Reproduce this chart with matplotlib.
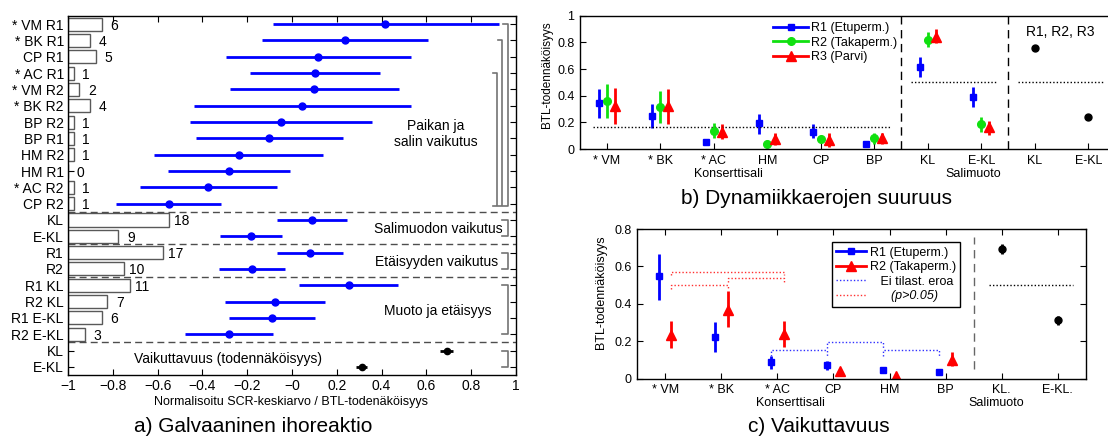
import numpy as np
import matplotlib
matplotlib.use('Agg')
import matplotlib.pyplot as plt
from matplotlib.lines import Line2D

plt.rcParams['font.family'] = ['Liberation Sans', 'DejaVu Sans']
plt.rcParams['axes.linewidth'] = 1.0

# ---- panel a data ----
a_labels = ['* VM R1', '* BK R1', 'CP R1', '* AC R1', '* VM R2', '* BK R2', 'BP R2', 'BP R1',
            'HM R2', 'HM R1', '* AC R2', 'CP R2', 'KL', 'E-KL', 'R1', 'R2',
            'R1 KL', 'R2 KL', 'R1 E-KL', 'R2 E-KL', 'KL', 'E-KL']
a_counts = [6, 4, 5, 1, 2, 4, 1, 1, 1, 0, 1, 1, 18, 9, 17, 10, 11, 7, 6, 3]
a_mean = [0.417, 0.237, 0.118, 0.103, 0.100, 0.045, -0.049, -0.101, -0.238, -0.283, -0.374, -0.551,
          0.088, -0.185, 0.082, -0.177, 0.253, -0.077, -0.089, -0.280]
a_low = [-0.086, -0.133, -0.295, -0.188, -0.277, -0.437, -0.455, -0.429, -0.615, -0.552, -0.679, -0.786,
         -0.068, -0.321, -0.066, -0.326, 0.033, -0.298, -0.280, -0.476]
a_high = [0.924, 0.609, 0.530, 0.393, 0.479, 0.530, 0.357, 0.228, 0.140, -0.010, -0.068, -0.318,
          0.247, -0.046, 0.229, -0.030, 0.475, 0.149, 0.104, -0.083]
a_btl = [0.69, 0.311]
a_btl_err = [0.03, 0.025]

# ---- panel b data ----
b_labels = ['* VM', '* BK', '* AC', 'HM', 'CP', 'BP', 'KL', 'E-KL', 'KL', 'E-KL']
b_r1 = [0.343, 0.248, 0.050, 0.193, 0.130, 0.035, 0.613, 0.392]
b_r1_lo = [0.231, 0.155, 0.038, 0.113, 0.080, 0.026, 0.538, 0.317]
b_r1_hi = [0.448, 0.335, 0.062, 0.263, 0.188, 0.044, 0.688, 0.463]
b_r2 = [0.362, 0.317, 0.137, 0.035, 0.073, 0.080, 0.818, 0.185]
b_r2_lo = [0.230, 0.193, 0.080, 0.025, 0.055, 0.038, 0.763, 0.130]
b_r2_hi = [0.485, 0.437, 0.193, 0.045, 0.090, 0.122, 0.875, 0.238]
b_r3 = [0.322, 0.322, 0.130, 0.073, 0.068, 0.080, 0.840, 0.163]
b_r3_lo = [0.188, 0.188, 0.073, 0.030, 0.018, 0.038, 0.793, 0.105]
b_r3_hi = [0.455, 0.448, 0.188, 0.118, 0.122, 0.118, 0.898, 0.213]
b_all = [0.760, 0.243]
b_all_err = [0.022, 0.02]

# ---- panel c data ----
c_labels = ['* VM', '* BK', '* AC', 'CP', 'HM', 'BP', 'KL.', 'E-KL.']
c_r1 = [0.547, 0.223, 0.086, 0.070, 0.045, 0.036]
c_r1_lo = [0.422, 0.143, 0.049, 0.045, 0.030, 0.025]
c_r1_hi = [0.668, 0.300, 0.120, 0.095, 0.060, 0.047]
c_r2 = [0.232, 0.369, 0.236, 0.042, 0.015, 0.099]
c_r2_lo = [0.164, 0.273, 0.166, 0.030, 0.005, 0.067]
c_r2_hi = [0.307, 0.467, 0.307, 0.055, 0.025, 0.143]
c_all = [0.694, 0.312]
c_all_err = [0.027, 0.025]
# non-significant pairs (index i, index j, height)
c_red_pairs = [(0, 2, 0.572), (1, 2, 0.538), (0, 1, 0.500)]
c_blue_pairs = [(2, 3, 0.152), (3, 4, 0.195), (4, 5, 0.152)]

W, H = 1108.0, 437.0
fig = plt.figure(figsize=(W / 100, H / 100), dpi=100)

dash = (0, (6, 4))
dot = (0, (1, 1.5))


def bracket(ax, x, y0, y1, d):
    ax.plot([x - d, x, x, x - d], [y0, y0, y1, y1], color='0.45', lw=1.2, clip_on=False)


def minus(v):
    return ('%g' % v).replace('-', '\u2212')


# ================= panel a =================
axa = fig.add_axes([68 / W, 1 - 375 / H, 448 / W, 359 / H])
rows = np.arange(1, 23)
n = len(a_counts)
axa.barh(rows[:n], np.array(a_counts) / 40, left=-1, height=0.8,
         facecolor='white', edgecolor='0.35', lw=1, zorder=2)
for r, c in zip(rows[:n], a_counts):
    axa.text(-1 + c / 40 + 0.056, r, str(c), ha='center', va='center_baseline', fontsize=10)

axa.hlines(rows[:n], a_low, a_high, color='blue', lw=2, zorder=3)
axa.plot(a_mean, rows[:n], 'o', color='blue', ms=5, zorder=4)
axa.errorbar(a_btl, rows[n:], xerr=a_btl_err, fmt='o', color='k', ms=4.5,
             elinewidth=2, capsize=0, zorder=4)

for y in [12.5, 14.5, 16.5, 20.5]:
    axa.axhline(y, color='0.3', ls=(0, (5, 3)), lw=1)

bracket(axa, 0.964, 1.0, 12.15, 0.02)
bracket(axa, 0.939, 2.0, 12.15, 0.02)
bracket(axa, 0.917, 4.0, 12.15, 0.02)
for y0, y1 in [(13, 14), (15, 16), (17, 20), (21, 22)]:
    bracket(axa, 0.964, y0, y1, 0.025)

axa.text(0.64, 7.72, 'Paikan ja\nsalin vaikutus', ha='center', va='center', fontsize=10,
         linespacing=1.2)
axa.text(0.94, 13.49, 'Salimuodon vaikutus', ha='right', va='center_baseline', fontsize=10)
axa.text(0.92, 15.48, 'Etäisyyden vaikutus', ha='right', va='center_baseline', fontsize=10)
axa.text(0.65, 18.46, 'Muoto ja etäisyys', ha='center', va='center_baseline', fontsize=10)
axa.text(-0.705, 21.45, 'Vaikuttavuus (todennäköisyys)', ha='left', va='center_baseline', fontsize=10)

axa.set_xlim(-1, 1)
axa.set_ylim(22.5, 0.5)
xt = np.round(np.arange(-1, 1.01, 0.2), 1)
axa.set_xticks(xt)
axa.set_xticklabels([minus(v) for v in xt])
axa.set_yticks(rows)
axa.set_yticklabels(a_labels)
axa.tick_params(direction='in', top=True, right=True, length=4, labelsize=10, pad=3)

fig.text(291.5 / W, 1 - 401.7 / H, 'Normalisoitu SCR-keskiarvo / BTL-todenäköisyys',
         ha='center', va='center', fontsize=9)
fig.text(253 / W, 1 - 426.7 / H, 'a) Galvaaninen ihoreaktio', ha='center', va='center', fontsize=15)

# ================= panel b =================
axb = fig.add_axes([580 / W, 1 - 149 / H, 535 / W, 133.3 / H])
pos = np.arange(1, len(b_r1) + 1)
green = '#10e010'
series_b = [(b_r1, b_r1_lo, b_r1_hi, 'blue', 's', -0.15, 5, 'R1 (Etuperm.)'),
            (b_r2, b_r2_lo, b_r2_hi, green, 'o', 0.0, 5.5, 'R2 (Takaperm.)'),
            (b_r3, b_r3_lo, b_r3_hi, 'red', '^', 0.15, 6.5, 'R3 (Parvi)')]
handles = []
for v, lo, hi, col, mk, dx, ms, lab in series_b:
    v = np.array(v)
    err = [v - np.array(lo), np.array(hi) - v]
    axb.errorbar(pos + dx, v, yerr=err, fmt=mk, color=col, ms=ms, elinewidth=2, capsize=0)
    handles.append(Line2D([0], [0], color=col, lw=2, marker=mk, ms=ms, label=lab))
axb.errorbar([9, 10], b_all, yerr=b_all_err, fmt='o', color='k', ms=5, elinewidth=2, capsize=0)

axb.plot([0.74, 6.29], [1 / 6, 1 / 6], color='k', ls=dot, lw=1)
axb.plot([6.68, 8.28], [0.5, 0.5], color='k', ls=dot, lw=1)
axb.plot([8.68, 10.27], [0.5, 0.5], color='k', ls=dot, lw=1)
axb.axvline(6.5, color='k', ls=dash, lw=1)
axb.axvline(8.5, color='k', ls=dash, lw=1)
axb.text(9.47, 0.88, 'R1, R2, R3', ha='center', va='center', fontsize=10)

axb.set_xlim(0.5, 10.5)
axb.set_ylim(0, 1)
axb.set_xticks(np.arange(1, 11))
axb.set_xticklabels(b_labels)
yt = [0, 0.2, 0.4, 0.6, 0.8, 1]
axb.set_yticks(yt)
axb.set_yticklabels(['%g' % v for v in yt])
axb.tick_params(direction='in', length=4, labelsize=9, pad=4)
axb.legend(handles=handles, loc='upper left', bbox_to_anchor=(0.361, 0.95), frameon=False,
           fontsize=9, handlelength=2.8, handletextpad=0.2, labelspacing=0.2,
           borderpad=0, borderaxespad=0)

fig.text(546.7 / W, 1 - 75 / H, 'BTL-todennäköisyys', rotation=90, ha='center', va='center', fontsize=8.5)
fig.text(728 / W, 1 - 174 / H, 'Konserttisali', ha='center', va='center', fontsize=9)
fig.text(973.3 / W, 1 - 174 / H, 'Salimuoto', ha='center', va='center', fontsize=9)
fig.text(816.5 / W, 1 - 198 / H, 'b) Dynamiikkaerojen suuruus', ha='center', va='center', fontsize=15)

# ================= panel c =================
axc = fig.add_axes([637.3 / W, 1 - 378.5 / H, 448.4 / W, 149.5 / H])
posc = np.arange(1, len(c_r1) + 1)
handles_c = []
for v, lo, hi, col, mk, dx, ms, lab in [(c_r1, c_r1_lo, c_r1_hi, 'blue', 's', -0.11, 5, 'R1 (Etuperm.)'),
                                         (c_r2, c_r2_lo, c_r2_hi, 'red', '^', 0.11, 6.5, 'R2 (Takaperm.)')]:
    v = np.array(v)
    err = [v - np.array(lo), np.array(hi) - v]
    axc.errorbar(posc + dx, v, yerr=err, fmt=mk, color=col, ms=ms, elinewidth=2, capsize=0)
    handles_c.append(Line2D([0], [0], color=col, lw=2, marker=mk, ms=ms, label=lab))
axc.errorbar([7, 8], c_all, yerr=c_all_err, fmt='o', color='k', ms=5, elinewidth=2, capsize=0)

for i, j, h in c_red_pairs:
    x0, x1 = posc[i] + 0.11, posc[j] + 0.11
    axc.plot([x0, x0, x1, x1], [h - 0.02, h, h, h - 0.02], color='#ff3030', ls=dot, lw=1)
for i, j, h in c_blue_pairs:
    x0, x1 = posc[i] - 0.11, posc[j] - 0.11
    axc.plot([x0, x0, x1, x1], [h - 0.03, h, h, h - 0.03], color='#3030ff', ls=dot, lw=1)

axc.plot([6.5, 6.5], [0.05, 0.755], color='0.4', ls=dash, lw=1)
axc.plot([6.77, 8.28], [0.5, 0.5], color='k', ls=dot, lw=1)

axc.set_xlim(0.5, 8.5)
axc.set_ylim(0, 0.8)
axc.set_xticks(np.arange(1, 9))
axc.set_xticklabels(c_labels)
ytc = [0, 0.2, 0.4, 0.6, 0.8]
axc.set_yticks(ytc)
axc.set_yticklabels(['%g' % v for v in ytc])
axc.tick_params(direction='in', top=True, right=True, length=4, labelsize=9, pad=4)

handles_c.append(Line2D([0], [0], color='#3030ff', ls=dot, lw=1, label='   Ei tilast. eroa'))
handles_c.append(Line2D([0], [0], color='#ff3030', ls=dot, lw=1, label='      (p>0.05)'))
leg = axc.legend(handles=handles_c, loc='upper left', bbox_to_anchor=(0.4335, 0.911),
                 fontsize=9, handlelength=2.4, handletextpad=0.3, labelspacing=0.2,
                 borderpad=0.35, borderaxespad=0, fancybox=False, framealpha=1)
leg.get_frame().set_edgecolor('k')
leg.get_frame().set_linewidth(1)
leg.get_texts()[3].set_fontstyle('italic')

fig.text(601.3 / W, 1 - 292 / H, 'BTL-todennäköisyys', rotation=90, ha='center', va='center', fontsize=9)
fig.text(790.5 / W, 1 - 403.3 / H, 'Konserttisali', ha='center', va='center', fontsize=9)
fig.text(995.8 / W, 1 - 403.3 / H, 'Salimuoto', ha='center', va='center', fontsize=9)
fig.text(818.5 / W, 1 - 426.7 / H, 'c) Vaikuttavuus', ha='center', va='center', fontsize=15)

fig.savefig('out.png', dpi=100)
